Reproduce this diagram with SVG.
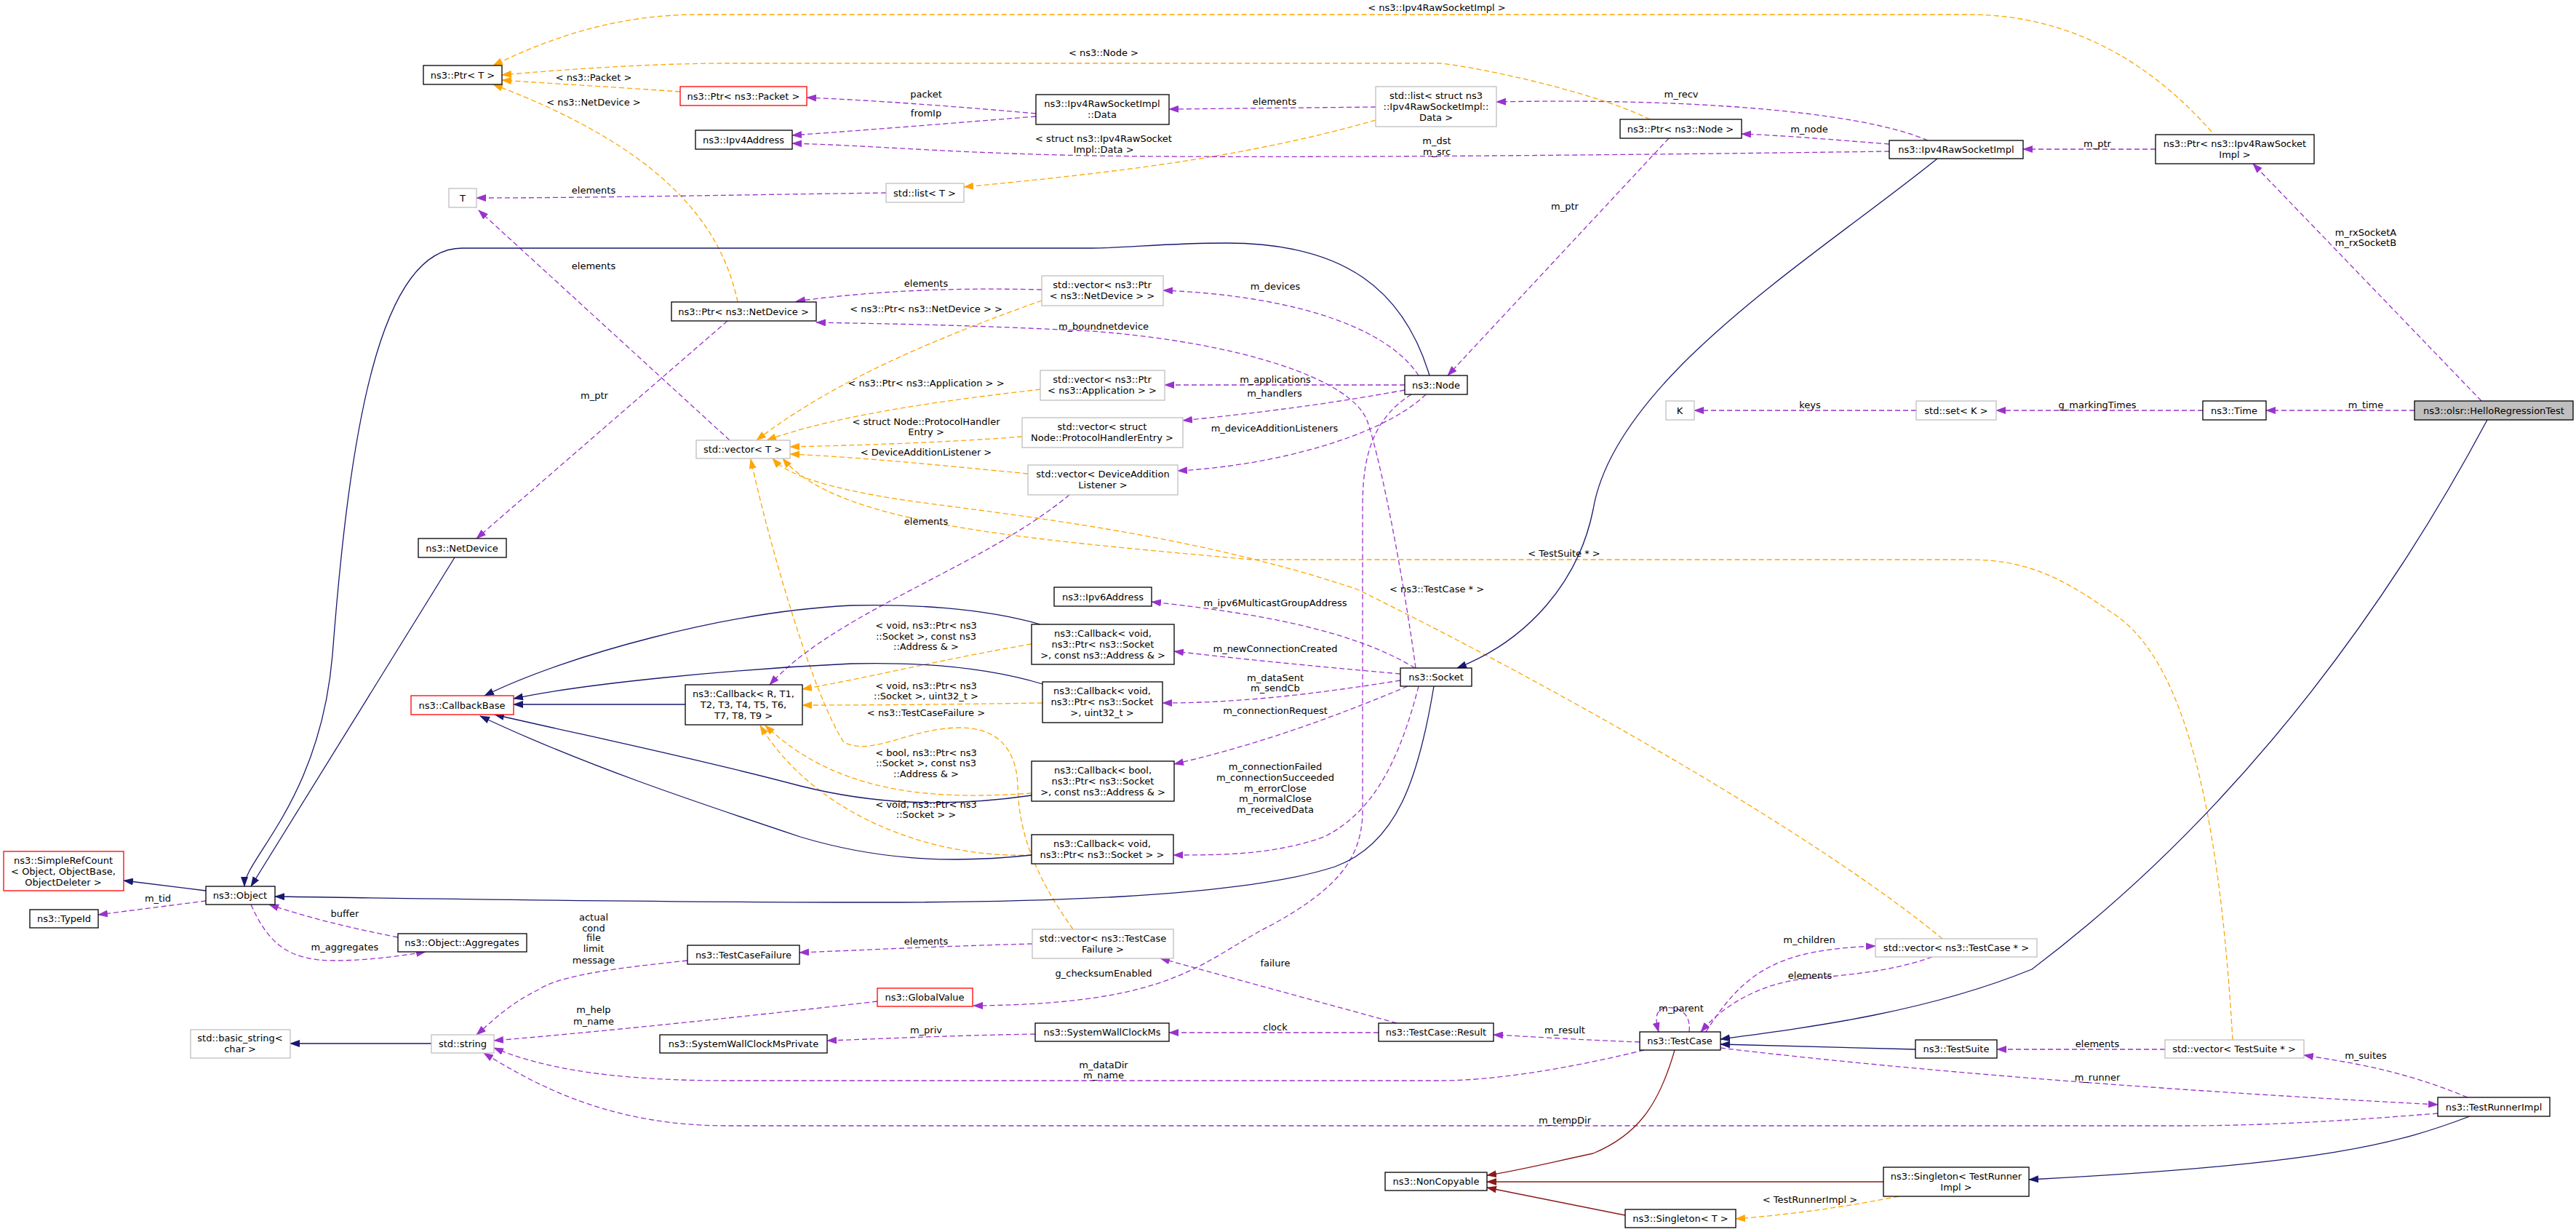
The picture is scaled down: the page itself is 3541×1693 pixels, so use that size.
<svg xmlns="http://www.w3.org/2000/svg" width="3541" height="1693" viewBox="0 0 3541 1693">
<style>
text{font-family:"DejaVu Sans","Liberation Sans",sans-serif;font-size:13px;fill:#000;text-anchor:middle}
.n rect{fill:#fff;stroke:#000;stroke-width:1.3}
.g rect{fill:#fff;stroke:#bfbfbf;stroke-width:1.3}
.r rect{fill:#fff;stroke:#ff0000;stroke-width:1.3}
.h rect{fill:#bfbfbf;stroke:#000;stroke-width:1.3}
#edges path{fill:none;stroke-width:1.3}
.p{stroke:#9a32cd;stroke-dasharray:7,4}
.o{stroke:#ffa500;stroke-dasharray:7,4}
.b{stroke:#191970}
.d{stroke:#8b1a1a}
</style>
<defs>
<marker id="mp" markerWidth="14" markerHeight="10" refX="13" refY="5" orient="auto" markerUnits="userSpaceOnUse"><path d="M0,0 L14,5 L0,10 z" fill="#9a32cd"/></marker>
<marker id="mo" markerWidth="14" markerHeight="10" refX="13" refY="5" orient="auto" markerUnits="userSpaceOnUse"><path d="M0,0 L14,5 L0,10 z" fill="#ffa500"/></marker>
<marker id="mb" markerWidth="14" markerHeight="10" refX="13" refY="5" orient="auto" markerUnits="userSpaceOnUse"><path d="M0,0 L14,5 L0,10 z" fill="#191970"/></marker>
<marker id="md" markerWidth="14" markerHeight="10" refX="13" refY="5" orient="auto" markerUnits="userSpaceOnUse"><path d="M0,0 L14,5 L0,10 z" fill="#8b1a1a"/></marker>
</defs>
<rect width="3541" height="1693" fill="#fff"/>
<g id="edges">
<!-- orange -->
<path class="o" marker-end="url(#mo)" d="M3040,181 C2960,90 2850,20 2706,20 L960,20 C850,20 760,50 678,90"/>
<path class="o" marker-end="url(#mo)" d="M2268,164 C2200,130 2050,95 1980,87 L1000,87 C900,87 780,95 690,103"/>
<path class="o" marker-end="url(#mo)" d="M935,126 C850,120 760,115 690,110"/>
<path class="o" marker-end="url(#mo)" d="M1014,415 C990,300 900,200 678,116"/>
<path class="o" marker-end="url(#mo)" d="M1891,165 C1700,220 1500,240 1325,257"/>
<path class="o" marker-end="url(#mo)" d="M1432,413 C1300,460 1150,520 1040,605"/>
<path class="o" marker-end="url(#mo)" d="M1430,535 C1300,550 1150,570 1054,605"/>
<path class="o" marker-end="url(#mo)" d="M1405,600 C1300,608 1180,612 1086,614"/>
<path class="o" marker-end="url(#mo)" d="M1413,651 C1300,640 1180,628 1086,624"/>
<path class="o" marker-end="url(#mo)" d="M3069,1429 C3050,1100 3000,900 2900,840 C2830,790 2780,769 2706,769 L1720,769 C1400,740 1150,720 1076,630"/>
<path class="o" marker-end="url(#mo)" d="M2670,1290 C2500,1150 2150,950 1866,810 C1600,720 1300,700 1200,680 C1120,665 1080,650 1062,630"/>
<path class="o" marker-end="url(#mo)" d="M1475,1277 C1420,1200 1400,1140 1399,1080 C1398,1040 1380,1000 1320,1000 C1250,1000 1200,1040 1160,1020 C1120,960 1060,760 1032,631"/>
<path class="o" marker-end="url(#mo)" d="M1418,885 C1300,905 1200,930 1103,947"/>
<path class="o" marker-end="url(#mo)" d="M1433,966 C1300,968 1200,969 1103,969"/>
<path class="o" marker-end="url(#mo)" d="M1418,1090 C1280,1100 1150,1090 1052,997"/>
<path class="o" marker-end="url(#mo)" d="M1418,1175 C1280,1180 1120,1120 1045,997"/>
<path class="o" marker-end="url(#mo)" d="M2610,1644 C2530,1660 2450,1670 2386,1675"/>
<!-- purple -->
<path class="p" marker-end="url(#mp)" d="M1424,156 C1300,145 1200,138 1109,134"/>
<path class="p" marker-end="url(#mp)" d="M1424,160 C1300,170 1200,178 1089,186"/>
<path class="p" marker-end="url(#mp)" d="M2597,208 C2300,212 1800,218 1500,214 C1300,210 1200,200 1089,197"/>
<path class="p" marker-end="url(#mp)" d="M1891,147 L1607,150"/>
<path class="p" marker-end="url(#mp)" d="M2650,193 C2550,150 2300,135 2057,140"/>
<path class="p" marker-end="url(#mp)" d="M2597,198 C2520,192 2450,186 2394,184"/>
<path class="p" marker-end="url(#mp)" d="M2963,205 L2781,205"/>
<path class="p" marker-end="url(#mp)" d="M3411,551 L3097,225"/>
<path class="p" marker-end="url(#mp)" d="M3319,564 L3115,564"/>
<path class="p" marker-end="url(#mp)" d="M3028,564 L2744,564"/>
<path class="p" marker-end="url(#mp)" d="M2634,564 L2329,564"/>
<path class="p" marker-end="url(#mp)" d="M1218,265 C1000,268 800,272 655,272"/>
<path class="p" marker-end="url(#mp)" d="M1003,605 L658,289"/>
<path class="p" marker-end="url(#mp)" d="M2294,190 L1990,516"/>
<path class="p" marker-end="url(#mp)" d="M1950,516 C1900,440 1750,405 1599,399"/>
<path class="p" marker-end="url(#mp)" d="M1432,398 C1300,395 1200,400 1094,414"/>
<path class="p" marker-end="url(#mp)" d="M1946,918 C1930,800 1900,640 1880,580 C1860,520 1700,470 1500,455 C1300,445 1200,445 1122,443"/>
<path class="p" marker-end="url(#mp)" d="M1940,542 C1880,580 1873,640 1873,700 L1873,1120 C1870,1180 1840,1220 1750,1270 C1650,1320 1620,1380 1338,1382"/>
<path class="p" marker-end="url(#mp)" d="M1931,529 L1601,529"/>
<path class="p" marker-end="url(#mp)" d="M1931,536 C1800,560 1700,570 1626,578"/>
<path class="p" marker-end="url(#mp)" d="M1960,542 C1900,600 1750,640 1619,647"/>
<path class="p" marker-end="url(#mp)" d="M1470,680 C1350,780 1150,840 1058,941"/>
<path class="p" marker-end="url(#mp)" d="M1000,441 L655,740"/>
<path class="p" marker-end="url(#mp)" d="M1945,918 C1850,860 1700,840 1583,827"/>
<path class="p" marker-end="url(#mp)" d="M1925,926 C1800,915 1700,905 1614,895"/>
<path class="p" marker-end="url(#mp)" d="M1925,935 C1800,955 1700,966 1598,966"/>
<path class="p" marker-end="url(#mp)" d="M1935,943 C1800,1000 1700,1030 1614,1050"/>
<path class="p" marker-end="url(#mp)" d="M1950,943 C1920,1060 1880,1120 1820,1150 C1750,1175 1680,1175 1613,1175"/>
<path class="p" marker-end="url(#mp)" d="M283,1238 L135,1257"/>
<path class="p" marker-end="url(#mp)" d="M547,1288 C480,1275 420,1260 370,1243"/>
<path class="p" marker-end="url(#mp)" d="M345,1243 C370,1300 400,1320 460,1320 C510,1320 560,1312 585,1308"/>
<path class="p" marker-end="url(#mp)" d="M945,1320 C850,1330 770,1340 740,1360 C700,1380 680,1400 655,1422"/>
<path class="p" marker-end="url(#mp)" d="M1206,1376 C1000,1400 800,1420 679,1430"/>
<path class="p" marker-end="url(#mp)" d="M1423,1421 C1300,1423 1200,1428 1137,1430"/>
<path class="p" marker-end="url(#mp)" d="M1419,1297 C1300,1300 1200,1305 1099,1309"/>
<path class="p" marker-end="url(#mp)" d="M1920,1406 L1595,1317"/>
<path class="p" marker-end="url(#mp)" d="M1895,1419 L1607,1419"/>
<path class="p" marker-end="url(#mp)" d="M2254,1432 C2150,1428 2100,1424 2053,1422"/>
<path class="p" marker-end="url(#mp)" d="M2260,1443 C2150,1470 2050,1485 1980,1485 L1000,1485 C850,1485 750,1470 679,1440"/>
<path class="p" marker-end="url(#mp)" d="M3351,1530 C3200,1542 3100,1547 3000,1547 L1000,1547 C850,1547 750,1500 665,1447"/>
<path class="p" marker-end="url(#mp)" d="M2322,1418 C2325,1390 2305,1383 2290,1385 C2275,1387 2275,1400 2280,1418"/>
<path class="p" marker-end="url(#mp)" d="M2345,1418 C2400,1330 2450,1305 2578,1300"/>
<path class="p" marker-end="url(#mp)" d="M2656,1315 C2600,1335 2540,1340 2480,1345 C2420,1352 2370,1380 2338,1418"/>
<path class="p" marker-end="url(#mp)" d="M3392,1508 C3300,1470 3230,1460 3167,1450"/>
<path class="p" marker-end="url(#mp)" d="M2976,1442 L2745,1442"/>
<path class="p" marker-end="url(#mp)" d="M2365,1440 C2700,1480 3100,1505 3351,1518"/>
<!-- navy -->
<path class="b" marker-end="url(#mb)" d="M1965,516 C1930,400 1850,334 1686,334 C1600,334 1550,341 1500,341 L635,341 C520,341 480,600 457,900 C440,1100 336,1180 336,1218"/>
<path class="b" marker-end="url(#mb)" d="M625,766 L345,1218"/>
<path class="b" marker-end="url(#mb)" d="M1971,943 C1950,1070 1920,1160 1835,1191 C1700,1235 1400,1240 1200,1240 C900,1240 600,1235 378,1232"/>
<path class="b" marker-end="url(#mb)" d="M283,1224 L170,1210"/>
<path class="b" marker-end="url(#mb)" d="M942,968 L706,968"/>
<path class="b" marker-end="url(#mb)" d="M1430,858 C1350,835 1250,830 1170,832 C1000,840 780,900 666,956"/>
<path class="b" marker-end="url(#mb)" d="M1433,940 C1350,915 1250,910 1170,912 C1000,920 800,940 706,960"/>
<path class="b" marker-end="url(#mb)" d="M1418,1093 C1300,1110 1200,1105 1100,1080 C950,1040 800,1010 680,982"/>
<path class="b" marker-end="url(#mb)" d="M1418,1175 C1300,1188 1200,1180 1100,1150 C950,1100 800,1050 660,984"/>
<path class="b" marker-end="url(#mb)" d="M2663,218 C2500,350 2220,520 2190,700 C2170,800 2100,880 2003,918"/>
<path class="b" marker-end="url(#mb)" d="M3419,577 C3300,800 3100,1100 2793,1332 C2650,1390 2500,1410 2365,1428"/>
<path class="b" marker-end="url(#mb)" d="M2633,1442 L2365,1435"/>
<path class="b" marker-end="url(#mb)" d="M593,1434 L399,1434"/>
<path class="b" marker-end="url(#mb)" d="M3395,1534 C3300,1570 3200,1600 2789,1621"/>
<!-- dark red -->
<path class="d" marker-end="url(#md)" d="M2302,1443 C2280,1520 2250,1560 2190,1585 C2120,1600 2080,1610 2044,1615"/>
<path class="d" marker-end="url(#md)" d="M2589,1624 L2044,1624"/>
<path class="d" marker-end="url(#md)" d="M2234,1670 L2044,1632"/>
</g>
<g id="labels">
<text x="1975" y="15">&lt; ns3::Ipv4RawSocketImpl &gt;</text>
<text x="1517" y="77">&lt; ns3::Node &gt;</text>
<text x="816" y="111">&lt; ns3::Packet &gt;</text>
<text x="816" y="145">&lt; ns3::NetDevice &gt;</text>
<text x="1273" y="134">packet</text>
<text x="1273" y="160">fromIp</text>
<text x="1752" y="144">elements</text>
<text x="1517" y="195">&lt; struct ns3::Ipv4RawSocket</text>
<text x="1517" y="210">Impl::Data &gt;</text>
<text x="2311" y="134">m_recv</text>
<text x="1975" y="198">m_dst</text>
<text x="1975" y="213">m_src</text>
<text x="2487" y="182">m_node</text>
<text x="2883" y="202">m_ptr</text>
<text x="3252" y="324">m_rxSocketA</text>
<text x="3252" y="338">m_rxSocketB</text>
<text x="2488" y="561">keys</text>
<text x="2883" y="561">g_markingTimes</text>
<text x="3252" y="561">m_time</text>
<text x="816" y="266">elements</text>
<text x="816" y="370">elements</text>
<text x="2151" y="288">m_ptr</text>
<text x="1273" y="394">elements</text>
<text x="1273" y="429">&lt; ns3::Ptr&lt; ns3::NetDevice &gt; &gt;</text>
<text x="1753" y="398">m_devices</text>
<text x="1517" y="453">m_boundnetdevice</text>
<text x="1273" y="531">&lt; ns3::Ptr&lt; ns3::Application &gt; &gt;</text>
<text x="1753" y="526">m_applications</text>
<text x="1752" y="545">m_handlers</text>
<text x="817" y="548">m_ptr</text>
<text x="1273" y="584">&lt; struct Node::ProtocolHandler</text>
<text x="1273" y="598">Entry &gt;</text>
<text x="1273" y="626">&lt; DeviceAdditionListener &gt;</text>
<text x="1752" y="593">m_deviceAdditionListeners</text>
<text x="1273" y="721">elements</text>
<text x="2150" y="765">&lt; TestSuite * &gt;</text>
<text x="1975" y="814">&lt; ns3::TestCase * &gt;</text>
<text x="1753" y="833">m_ipv6MulticastGroupAddress</text>
<text x="1273" y="864">&lt; void, ns3::Ptr&lt; ns3</text>
<text x="1273" y="879">::Socket &gt;, const ns3</text>
<text x="1273" y="893">::Address &amp; &gt;</text>
<text x="1753" y="896">m_newConnectionCreated</text>
<text x="1753" y="936">m_dataSent</text>
<text x="1753" y="950">m_sendCb</text>
<text x="1273" y="947">&lt; void, ns3::Ptr&lt; ns3</text>
<text x="1273" y="961">::Socket &gt;, uint32_t &gt;</text>
<text x="1273" y="984">&lt; ns3::TestCaseFailure &gt;</text>
<text x="1753" y="981">m_connectionRequest</text>
<text x="1273" y="1039">&lt; bool, ns3::Ptr&lt; ns3</text>
<text x="1273" y="1053">::Socket &gt;, const ns3</text>
<text x="1273" y="1068">::Address &amp; &gt;</text>
<text x="1753" y="1058">m_connectionFailed</text>
<text x="1753" y="1073">m_connectionSucceeded</text>
<text x="1753" y="1088">m_errorClose</text>
<text x="1753" y="1102">m_normalClose</text>
<text x="1753" y="1117">m_receivedData</text>
<text x="1273" y="1110">&lt; void, ns3::Ptr&lt; ns3</text>
<text x="1273" y="1124">::Socket &gt; &gt;</text>
<text x="217" y="1239">m_tid</text>
<text x="474" y="1260">buffer</text>
<text x="474" y="1306">m_aggregates</text>
<text x="816" y="1265">actual</text>
<text x="816" y="1280">cond</text>
<text x="816" y="1293">file</text>
<text x="816" y="1308">limit</text>
<text x="816" y="1324">message</text>
<text x="816" y="1392">m_help</text>
<text x="816" y="1408">m_name</text>
<text x="1273" y="1298">elements</text>
<text x="1517" y="1342">g_checksumEnabled</text>
<text x="1753" y="1328">failure</text>
<text x="1273" y="1420">m_priv</text>
<text x="1753" y="1416">clock</text>
<text x="2151" y="1420">m_result</text>
<text x="2311" y="1390">m_parent</text>
<text x="1517" y="1468">m_dataDir</text>
<text x="1517" y="1482">m_name</text>
<text x="2151" y="1544">m_tempDir</text>
<text x="2487" y="1296">m_children</text>
<text x="2488" y="1345">elements</text>
<text x="2883" y="1439">elements</text>
<text x="3252" y="1455">m_suites</text>
<text x="2883" y="1485">m_runner</text>
<text x="2488" y="1653">&lt; TestRunnerImpl &gt;</text>
</g>
<g id="PtrT" class="n"><rect x="582" y="90" width="108" height="26"/><text x="636" y="108">ns3::Ptr&lt; T &gt;</text></g>
<g id="PtrPacket" class="r"><rect x="935" y="119" width="174" height="26"/><text x="1022" y="137">ns3::Ptr&lt; ns3::Packet &gt;</text></g>
<g id="Ipv4Address" class="n"><rect x="956" y="179" width="133" height="26"/><text x="1022" y="197">ns3::Ipv4Address</text></g>
<g id="T" class="g"><rect x="617" y="259" width="38" height="26"/><text x="636" y="277">T</text></g>
<g id="PtrNetDevice" class="n"><rect x="923" y="415" width="199" height="26"/><text x="1022" y="433">ns3::Ptr&lt; ns3::NetDevice &gt;</text></g>
<g id="Data" class="n"><rect x="1424" y="130" width="183" height="41"/><text x="1515" y="147">ns3::Ipv4RawSocketImpl</text><text x="1515" y="162">::Data</text></g>
<g id="ListData" class="g"><rect x="1891" y="119" width="166" height="55"/><text x="1974" y="136">std::list&lt; struct ns3</text><text x="1974" y="151">::Ipv4RawSocketImpl::</text><text x="1974" y="166">Data &gt;</text></g>
<g id="PtrNode" class="n"><rect x="2227" y="164" width="167" height="26"/><text x="2310" y="182">ns3::Ptr&lt; ns3::Node &gt;</text></g>
<g id="ListT" class="g"><rect x="1218" y="252" width="107" height="26"/><text x="1271" y="270">std::list&lt; T &gt;</text></g>
<g id="VecNetDevice" class="g"><rect x="1432" y="379" width="167" height="41"/><text x="1515" y="396">std::vector&lt; ns3::Ptr</text><text x="1515" y="411">&lt; ns3::NetDevice &gt; &gt;</text></g>
<g id="VecApp" class="g"><rect x="1430" y="509" width="171" height="41"/><text x="1515" y="526">std::vector&lt; ns3::Ptr</text><text x="1515" y="541">&lt; ns3::Application &gt; &gt;</text></g>
<g id="Node" class="n"><rect x="1931" y="516" width="86" height="26"/><text x="1974" y="534">ns3::Node</text></g>
<g id="Ipv4RawSocketImpl" class="n"><rect x="2597" y="193" width="184" height="25"/><text x="2689" y="210">ns3::Ipv4RawSocketImpl</text></g>
<g id="PtrIpv4Raw" class="n"><rect x="2963" y="185" width="218" height="40"/><text x="3072" y="202">ns3::Ptr&lt; ns3::Ipv4RawSocket</text><text x="3072" y="217">Impl &gt;</text></g>
<g id="K" class="g"><rect x="2290" y="551" width="39" height="26"/><text x="2309" y="569">K</text></g>
<g id="SetK" class="g"><rect x="2634" y="551" width="110" height="26"/><text x="2689" y="569">std::set&lt; K &gt;</text></g>
<g id="Time" class="n"><rect x="3028" y="551" width="87" height="26"/><text x="3071" y="569">ns3::Time</text></g>
<g id="Hello" class="h"><rect x="3319" y="551" width="218" height="26"/><text x="3428" y="569">ns3::olsr::HelloRegressionTest</text></g>
<g id="VecT" class="g"><rect x="957" y="605" width="129" height="25"/><text x="1021" y="622">std::vector&lt; T &gt;</text></g>
<g id="VecPHE" class="g"><rect x="1405" y="574" width="221" height="41"/><text x="1515" y="591">std::vector&lt; struct</text><text x="1515" y="606">Node::ProtocolHandlerEntry &gt;</text></g>
<g id="VecDAL" class="g"><rect x="1413" y="639" width="206" height="41"/><text x="1516" y="656">std::vector&lt; DeviceAddition</text><text x="1516" y="671">Listener &gt;</text></g>
<g id="NetDevice" class="n"><rect x="575" y="740" width="121" height="26"/><text x="635" y="758">ns3::NetDevice</text></g>
<g id="Ipv6Address" class="n"><rect x="1449" y="807" width="134" height="26"/><text x="1516" y="825">ns3::Ipv6Address</text></g>
<g id="CallbackBase" class="r"><rect x="565" y="956" width="141" height="26"/><text x="635" y="974">ns3::CallbackBase</text></g>
<g id="CallbackR" class="n"><rect x="942" y="941" width="161" height="55"/><text x="1022" y="958">ns3::Callback&lt; R, T1,</text><text x="1022" y="973">T2, T3, T4, T5, T6,</text><text x="1022" y="988">T7, T8, T9 &gt;</text></g>
<g id="CbAddr" class="n"><rect x="1418" y="858" width="196" height="55"/><text x="1516" y="875">ns3::Callback&lt; void,</text><text x="1516" y="890">ns3::Ptr&lt; ns3::Socket</text><text x="1516" y="905">&gt;, const ns3::Address &amp; &gt;</text></g>
<g id="CbUint" class="n"><rect x="1433" y="937" width="165" height="56"/><text x="1515" y="954">ns3::Callback&lt; void,</text><text x="1515" y="969">ns3::Ptr&lt; ns3::Socket</text><text x="1515" y="984">&gt;, uint32_t &gt;</text></g>
<g id="CbBool" class="n"><rect x="1418" y="1046" width="196" height="55"/><text x="1516" y="1063">ns3::Callback&lt; bool,</text><text x="1516" y="1078">ns3::Ptr&lt; ns3::Socket</text><text x="1516" y="1093">&gt;, const ns3::Address &amp; &gt;</text></g>
<g id="CbSock" class="n"><rect x="1418" y="1147" width="195" height="40"/><text x="1515" y="1164">ns3::Callback&lt; void,</text><text x="1515" y="1179">ns3::Ptr&lt; ns3::Socket &gt; &gt;</text></g>
<g id="Socket" class="n"><rect x="1925" y="918" width="98" height="25"/><text x="1974" y="935">ns3::Socket</text></g>
<g id="SimpleRefCount" class="r"><rect x="5" y="1170" width="165" height="54"/><text x="87" y="1187">ns3::SimpleRefCount</text><text x="87" y="1202">&lt; Object, ObjectBase,</text><text x="87" y="1217">ObjectDeleter &gt;</text></g>
<g id="Object" class="n"><rect x="283" y="1218" width="95" height="25"/><text x="330" y="1235">ns3::Object</text></g>
<g id="TypeId" class="n"><rect x="41" y="1250" width="94" height="25"/><text x="88" y="1267">ns3::TypeId</text></g>
<g id="Aggregates" class="n"><rect x="547" y="1283" width="177" height="25"/><text x="635" y="1300">ns3::Object::Aggregates</text></g>
<g id="TestCaseFailure" class="n"><rect x="945" y="1299" width="154" height="26"/><text x="1022" y="1317">ns3::TestCaseFailure</text></g>
<g id="BasicString" class="g"><rect x="262" y="1415" width="137" height="39"/><text x="330" y="1431">std::basic_string&lt;</text><text x="330" y="1446">char &gt;</text></g>
<g id="String" class="g"><rect x="593" y="1422" width="86" height="25"/><text x="636" y="1439">std::string</text></g>
<g id="SWCMP" class="n"><rect x="907" y="1422" width="230" height="25"/><text x="1022" y="1439">ns3::SystemWallClockMsPrivate</text></g>
<g id="VecTCF" class="g"><rect x="1419" y="1277" width="194" height="40"/><text x="1516" y="1294">std::vector&lt; ns3::TestCase</text><text x="1516" y="1309">Failure &gt;</text></g>
<g id="GlobalValue" class="r"><rect x="1206" y="1358" width="131" height="25"/><text x="1271" y="1375">ns3::GlobalValue</text></g>
<g id="SWCM" class="n"><rect x="1423" y="1406" width="184" height="25"/><text x="1515" y="1423">ns3::SystemWallClockMs</text></g>
<g id="Result" class="n"><rect x="1895" y="1406" width="158" height="25"/><text x="1974" y="1423">ns3::TestCase::Result</text></g>
<g id="TestCase" class="n"><rect x="2254" y="1418" width="111" height="25"/><text x="2309" y="1435">ns3::TestCase</text></g>
<g id="NonCopyable" class="n"><rect x="1904" y="1611" width="140" height="25"/><text x="1974" y="1628">ns3::NonCopyable</text></g>
<g id="SingletonT" class="n"><rect x="2234" y="1662" width="152" height="25"/><text x="2310" y="1679">ns3::Singleton&lt; T &gt;</text></g>
<g id="VecTC" class="g"><rect x="2578" y="1290" width="222" height="25"/><text x="2689" y="1307">std::vector&lt; ns3::TestCase * &gt;</text></g>
<g id="TestSuite" class="n"><rect x="2633" y="1429" width="112" height="25"/><text x="2689" y="1446">ns3::TestSuite</text></g>
<g id="VecTS" class="g"><rect x="2976" y="1429" width="191" height="25"/><text x="3071" y="1446">std::vector&lt; TestSuite * &gt;</text></g>
<g id="TestRunnerImpl" class="n"><rect x="3351" y="1508" width="154" height="26"/><text x="3428" y="1526">ns3::TestRunnerImpl</text></g>
<g id="SingletonTRI" class="n"><rect x="2589" y="1604" width="200" height="40"/><text x="2689" y="1621">ns3::Singleton&lt; TestRunner</text><text x="2689" y="1636">Impl &gt;</text></g>
</svg>
